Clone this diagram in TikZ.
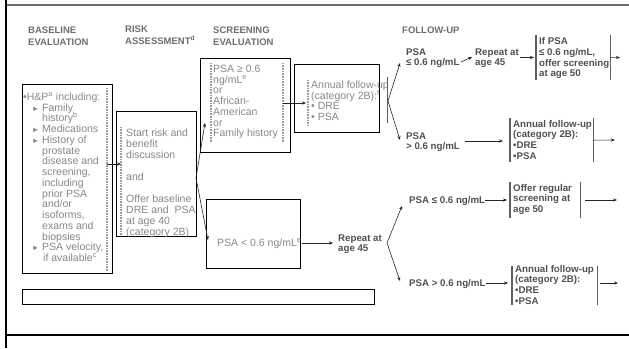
\documentclass[tikz,border=0pt]{standalone}
\usepackage{fontspec}
\setmainfont{Liberation Sans}
\usetikzlibrary{arrows.meta}
\definecolor{txtg}{RGB}{135,135,135}
\definecolor{hdrg}{RGB}{110,110,110}
\definecolor{fug}{RGB}{80,80,80}
\definecolor{barg}{RGB}{95,95,95}
\definecolor{dotg}{RGB}{155,155,155}
\definecolor{topg}{RGB}{110,110,110}
\newcommand{\gfont}{\fontsize{10.5}{10.75}\selectfont\lineskiplimit=-20pt\relax}
\newcommand{\rfontx}{\fontsize{10.5}{11}\selectfont\lineskiplimit=-20pt\relax}
\newcommand{\bfontx}{\bfseries\fontsize{9.7}{10.7}\selectfont\lineskiplimit=-20pt\relax}
\newcommand{\hfontx}{\bfseries\fontsize{9.5}{12}\selectfont\lineskiplimit=-20pt\relax}
\newcommand{\fstrut}{\rule{0pt}{10pt}}
\newcommand{\tri}{{\fontsize{7.5}{7.5}\selectfont ►}}
\newcommand{\bitem}{\makebox[19pt][r]{\tri\hspace{3pt}}}
\newcommand{\bcont}{\hspace*{19pt}}
\begin{document}
\begin{tikzpicture}[x=1pt,y=-1pt,
  gt/.style={anchor=north west, inner sep=0pt, align=left, text=txtg, font=\gfont},
  rt/.style={anchor=north west, inner sep=0pt, align=left, text=txtg, font=\rfontx},
  bt/.style={anchor=north west, inner sep=0pt, align=left, text=fug, font=\bfontx},
  hd/.style={anchor=north west, inner sep=0pt, align=left, text=hdrg, font=\hfontx},
  box/.style={draw, line width=0.8pt, inner sep=0pt, anchor=north west},
  fbox/.style={inner sep=0pt, anchor=north west},
  bar/.style={draw=barg, line width=1.3pt},
  dotl/.style={draw=dotg, line width=1.6pt, dash pattern=on 0.9pt off 0.7pt},
  arr/.style={draw=black!85, line width=0.6pt, -{Stealth[length=4pt,width=3.2pt]}}]
\useasboundingbox (0,0) rectangle (629,348);

% frame
\draw[line width=2.5pt] (6,0) -- (6,348);
\draw[draw=topg, line width=1.2pt] (7,5) -- (629,5);
\draw[line width=1.2pt] (7,335) -- (629,335);

% headers
\node[hd] (h1) at (28,22.9) {\fstrut BASELINE\\EVALUATION};
\node[hd] (h2) at (125,21.9) {\fstrut RISK\\ASSESSMENT\textsuperscript{d}};
\node[hd] (h3) at (213,22.9) {\fstrut SCREENING\\EVALUATION};
\node[hd] (h4) at (402,22.9) {\fstrut FOLLOW-UP};

% baseline box
\node[box, minimum width=90pt, minimum height=189pt] (bl) at (22,84) {};
\draw[dotl] (107,88) -- (107,272);
\node[gt] (blt) at (23,90.2) {\fstrut •H\&P\textsuperscript{a} including:\\
\bitem Family\\
\bcont history\textsuperscript{b}\\
\bitem Medications\\
\bitem History of\\
\bcont prostate\\
\bcont disease and\\
\bcont screening,\\
\bcont including\\
\bcont prior PSA\\
\bcont and/or\\
\bcont isoforms,\\
\bcont exams and\\
\bcont biopsies\\
\bitem PSA velocity,\\
\bcont \hspace*{1pt}if available\textsuperscript{c}};

% risk box
\node[box, minimum width=80pt, minimum height=125pt] (rk) at (116,111) {};
\draw[dotl] (121,127) -- (121,235);
\node[rt] (rkt) at (126,126.2) {\fstrut Start risk and\\
benefit\\
discussion\\
\mbox{}\\
and\\
\mbox{}\\
Offer baseline\\
DRE and\ \ PSA\\
at age 40\\
(category 2B)};

% screening top box
\node[box, minimum width=90pt, minimum height=94pt] (st) at (200,58) {};
\draw[dotl] (211,63) -- (211,142);
\draw[dotl] (283,63) -- (283,142);
\node[gt] (stt) at (213,62.2) {\fstrut PSA ≥ 0.6\\
ng/mL\textsuperscript{e}\\
or\\
African-\\
American\\
or\\
Family history};

% annual box (screening)
\node[box, minimum width=85pt, minimum height=68pt] (an) at (294,64) {};
\draw[dotl] (308,80) -- (308,125);
\node[gt] (ant) at (311,78.2) {\fstrut Annual follow-up\\
(category 2B):\textsuperscript{f}\\
• DRE\\
• PSA};
\coordinate (anb1) at (387.5,77);
\coordinate (anb2) at (387.5,123);
\draw[bar] (anb1) -- (anb2);

% screening low box
\node[box, minimum width=94pt, minimum height=69pt] (sl) at (206,199) {};
\node[gt] (slt) at (217,236.2) {\fstrut PSA < 0.6 ng/mL\textsuperscript{e}};

% bottom wide box
\node[box, minimum width=352pt, minimum height=15pt] (wb) at (22,289) {};

% arrows in left part
\coordinate (a1s) at (107,164);
\coordinate (a1e) at (121,164);
\draw[arr] (a1s) -- (a1e);
\coordinate (f1) at (196,178);
\coordinate (f1u) at (205,123);
\coordinate (f1d) at (208,240);
\draw[arr] (f1) -- (f1u);
\draw[arr] (f1) -- (f1d);
\coordinate (a2s) at (283,103);
\coordinate (a2e) at (306,103);
\draw[arr] (a2s) -- (a2e);

% fork after annual
\coordinate (f2) at (388,101);
\coordinate (f2u) at (400,63);
\coordinate (f2d) at (400,140);
\draw[arr] (f2) -- (f2u);
\draw[arr] (f2) -- (f2d);

% row 1
\node[bt] (r1l) at (406,45) {\fstrut PSA\\≤ 0.6 ng/mL};
\coordinate (a3s) at (461,62);
\coordinate (a3e) at (472,57);
\draw[arr] (a3s) -- (a3e);
\node[bt] (r1r) at (475,45) {\fstrut Repeat at\\age 45};
\coordinate (a4s) at (520,57.5);
\coordinate (a4e) at (534,57.5);
\draw[arr] (a4s) -- (a4e);
\node[fbox, minimum width=74pt, minimum height=45pt] (fb1) at (536,35) {};
\draw[bar] (fb1.north west) -- (fb1.south west);
\draw[bar] (fb1.north east) -- (fb1.south east);
\node[bt] (fb1t) at (539,34.5) {\fstrut If PSA\\≤ 0.6 ng/mL,\\offer screening\\at age 50};
\coordinate (a5e) at (620,57.5);
\draw[arr] (fb1.east) -- (a5e);

% row 2
\node[bt] (r2l) at (406,129) {\fstrut PSA\\> 0.6 ng/mL};
\coordinate (a6s) at (465,141);
\node[fbox, minimum width=83pt, minimum height=44pt] (fb2) at (510,118) {};
\draw[bar] (fb2.north west) -- (fb2.south west);
\draw[bar] (fb2.north east) -- (fb2.south east);
\node[bt] (fb2t) at (513,117) {\fstrut Annual follow-up\\(category 2B):\\•DRE\\•PSA};
\coordinate (a6e) at (503,141);
\draw[arr] (a6s) -- (a6e);
\coordinate (a7e) at (615,140);
\draw[arr] (fb2.east) -- (a7e);

% low branch
\coordinate (a8s) at (302,243);
\coordinate (a8e) at (333,243);
\draw[arr] (a8s) -- (a8e);
\node[bt] (r3m) at (338,231) {\fstrut Repeat at\\age 45};
\coordinate (f3) at (387,243);
\coordinate (f3u) at (402,206);
\coordinate (f3d) at (400,281);
\draw[arr] (f3) -- (f3u);
\draw[arr] (f3) -- (f3d);

% row 3
\node[bt] (r3l) at (409,193) {\fstrut PSA ≤ 0.6 ng/mL};
\coordinate (a9s) at (485,200);
\coordinate (a9e) at (507,200);
\draw[arr] (a9s) -- (a9e);
\node[fbox, minimum width=70pt, minimum height=36pt] (fb3) at (510,182) {};
\draw[bar] (fb3.north west) -- (fb3.south west);
\draw[bar] (fb3.north east) -- (fb3.south east);
\node[bt] (fb3t) at (513,181) {\fstrut Offer regular\\screening at\\age 50};
\coordinate (a10s) at (585,200);
\coordinate (a10e) at (617,200);
\draw[arr] (a10s) -- (a10e);

% row 4
\node[bt] (r4l) at (409,276) {\fstrut PSA > 0.6 ng/mL};
\coordinate (a11s) at (486,283);
\coordinate (a11e) at (508,283);
\draw[arr] (a11s) -- (a11e);
\node[fbox, minimum width=85pt, minimum height=39pt] (fb4) at (512,266) {};
\draw[bar] (fb4.north west) -- (fb4.south west);
\draw[bar] (fb4.north east) -- (fb4.south east);
\node[bt] (fb4t) at (515,262) {\fstrut Annual follow-up\\(category 2B):\\•DRE\\•PSA};
\coordinate (a12s) at (600,283);
\coordinate (a12e) at (618,283);
\draw[arr] (a12s) -- (a12e);
\end{tikzpicture}
\end{document}
